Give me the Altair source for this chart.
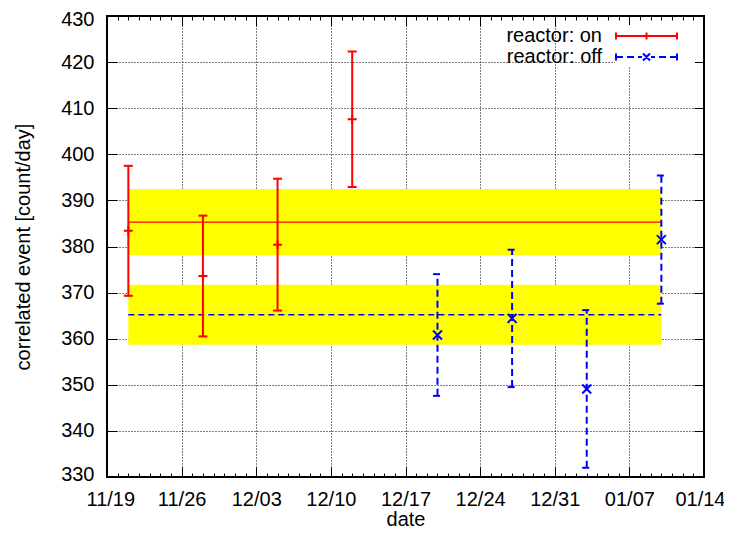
import altair as alt
import pandas as pd

# ---------------- data ----------------
series_names = ["reactor: on", "reactor: off"]
series_colors = ["#ff0000", "#0000ff"]

on_dates = ["2012-11-21", "2012-11-28", "2012-12-05", "2012-12-12"]
on_values = [383.4, 373.6, 380.4, 407.6]
on_errors = [14.1, 13.1, 14.3, 14.7]

off_dates = ["2012-12-20", "2012-12-27", "2013-01-03", "2013-01-10"]
off_values = [360.8, 364.4, 349.1, 381.5]
off_errors = [13.2, 14.9, 17.1, 13.9]

on_mean, on_mean_err = 385.3, 7.2
off_mean, off_mean_err = 365.2, 6.5
band_start, band_end = "2012-11-21", "2013-01-10"

x_start, x_end = "2012-11-19", "2013-01-14"
y_domain = [330, 430]
y_ticks = list(range(330, 431, 10))

# ---------------- tables ----------------
def pts(dates, vals, errs, name):
    return pd.DataFrame({
        "date": dates, "value": vals,
        "low": [v - e for v, e in zip(vals, errs)],
        "high": [v + e for v, e in zip(vals, errs)],
        "series": name,
    })

on_df = pts(on_dates, on_values, on_errors, series_names[0])
off_df = pts(off_dates, off_values, off_errors, series_names[1])
all_df = pd.concat([on_df, off_df], ignore_index=True)

def band(mean, err, name):
    return pd.DataFrame({"start": [band_start], "end": [band_end], "mean": [mean],
                         "lo": [mean - err], "hi": [mean + err], "series": [name]})

on_band = band(on_mean, on_mean_err, series_names[0])
off_band = band(off_mean, off_mean_err, series_names[1])

DAY = 86400000
T0 = int(pd.Timestamp(x_start, tz="UTC").value // 10**6)
T1 = int(pd.Timestamp(x_end, tz="UTC").value // 10**6)
day_ticks = list(range(T0, T1 + 1, DAY))
weekly = f"round((datum.value - {T0}) / {DAY}) % 7 === 0"

FONT = "Liberation Sans"
xscale = alt.Scale(type="utc", domain=[T0, T1], nice=False)
yscale = alt.Scale(domain=y_domain, nice=False, zero=False)

tick_cond = {"condition": {"test": weekly, "value": -10}, "value": -4}

ax_bottom = alt.Axis(
    orient="bottom", values=day_ticks, title="date",
    labelExpr=f"{weekly} ? utcFormat(datum.value, '%m/%d') : ''",
    labelOverlap=False, labelFlush=True, labelFlushOffset=21, labelBound=False,
    grid=True, gridOpacity={"condition": {"test": weekly, "value": 1}, "value": 0},
    tickSize=tick_cond, labelPadding=22, titleY=32, titleBaseline="top",
)
ax_top = alt.Axis(orient="top", values=day_ticks, title=None, labels=False,
                  grid=False, tickSize=tick_cond)
ax_left = alt.Axis(orient="left", values=y_ticks, title="correlated event [count/day]",
                   grid=True, tickSize={"expr": "-10"}, labelPadding=23, titlePadding=27,
                   labelFlush=True, labelFlushOffset=7)
ax_right = alt.Axis(orient="right", values=y_ticks, title=None, labels=False,
                    grid=False, tickSize={"expr": "-10"})


def X(field, axis=None):
    return alt.X(f"{field}:T", scale=xscale, axis=axis)


def Y(field, axis=None):
    return alt.Y(f"{field}:Q", scale=yscale, axis=axis)


layers = []
# yellow bands
layers.append(alt.Chart(on_band).mark_rect(color="#ffff00").encode(
    x=X("start", ax_bottom), x2="end", y=Y("lo", ax_left), y2="hi"))
layers.append(alt.Chart(off_band).mark_rect(color="#ffff00").encode(
    x=X("start", ax_top), x2="end", y=Y("lo", ax_right), y2="hi"))
# mean lines
layers.append(alt.Chart(on_band).mark_rule(color=series_colors[0], strokeWidth=1.2).encode(
    x=X("start"), x2="end", y=Y("mean")))
layers.append(alt.Chart(off_band).mark_rule(color=series_colors[1], strokeWidth=1.6,
                                            strokeDash=[6, 4]).encode(
    x=X("start"), x2="end", y=Y("mean")))

plus_path = "M-1,0H1M0,-1V1"
cross_path = "M-1,-1L1,1M-1,1L1,-1"

for df, col, dash, path in [(on_df, series_colors[0], None, plus_path),
                            (off_df, series_colors[1], [7, 4], cross_path)]:
    kw = {} if dash is None else {"strokeDash": dash}
    base = alt.Chart(df)
    layers.append(base.mark_rule(color=col, strokeWidth=2, **kw).encode(
        x=X("date"), y=Y("low"), y2="high"))
    for f in ["low", "high"]:
        layers.append(base.mark_rule(color=col, strokeWidth=2, xOffset=-4.5, x2Offset=4.5, **kw).encode(
            x=X("date"), x2="date", y=Y(f)))
    layers.append(base.mark_point(shape=path, size=81, filled=False, stroke=col,
                                  strokeWidth=2, opacity=1).encode(x=X("date"), y=Y("value")))

# legend layer (invisible marks, visible legend); symbol unit = 10 px
red_sym = ("M-17.5,0M6.5,0"
           "M-1,0H5.1M-1,-0.35V0.35M5.1,-0.35V0.35M2.05,-0.35V0.35")
blue_sym = ("M-17.5,0M6.5,0"
            "M-1,-0.35V0.35M5.1,-0.35V0.35"
            "M-1,0H-0.3M0.1,0H0.8M1.2,0H1.6"
            "M2.5,0H2.9M3.3,0H4M4.4,0H5.1"
            "M1.7,-0.35L2.4,0.35M1.7,0.35L2.4,-0.35")
leg = alt.Legend(title=None, orient="top-right", offset=9, padding=0, fillColor="white",
                 symbolSize=400, symbolStrokeWidth=2, symbolOpacity=1,
                 symbolFillColor="transparent",
                 labelFont=FONT, labelFontSize=20, labelColor="black",
                 labelAlign="right", labelOffset={"expr": "-35"}, rowPadding=0, labelLimit=400)
layers.append(alt.Chart(all_df).mark_point(filled=False, opacity=0).encode(
    x=X("date"), y=Y("value"),
    color=alt.Color("series:N", scale=alt.Scale(domain=series_names, range=series_colors), legend=leg),
    shape=alt.Shape("series:N", scale=alt.Scale(domain=series_names, range=[red_sym, blue_sym]), legend=leg),
))

chart = alt.layer(*layers).resolve_axis(x="independent", y="independent").properties(
    width=597, height=461,
    autosize=alt.AutoSizeParams(type="none"),
    padding={"left": 99, "top": 8, "right": 20, "bottom": 52},
    background="white",
).configure_view(stroke="black", strokeWidth=2).configure_axis(
    domain=False, tickColor="black", tickWidth=1,
    gridColor="black", gridDash=[1, 2], gridWidth=1,
    labelFont=FONT, labelFontSize=20, labelColor="black",
    titleFont=FONT, titleFontSize=20, titleColor="black", titleFontWeight="normal",
)

chart.save("out.html", embed_options={"renderer": "svg", "actions": False})
